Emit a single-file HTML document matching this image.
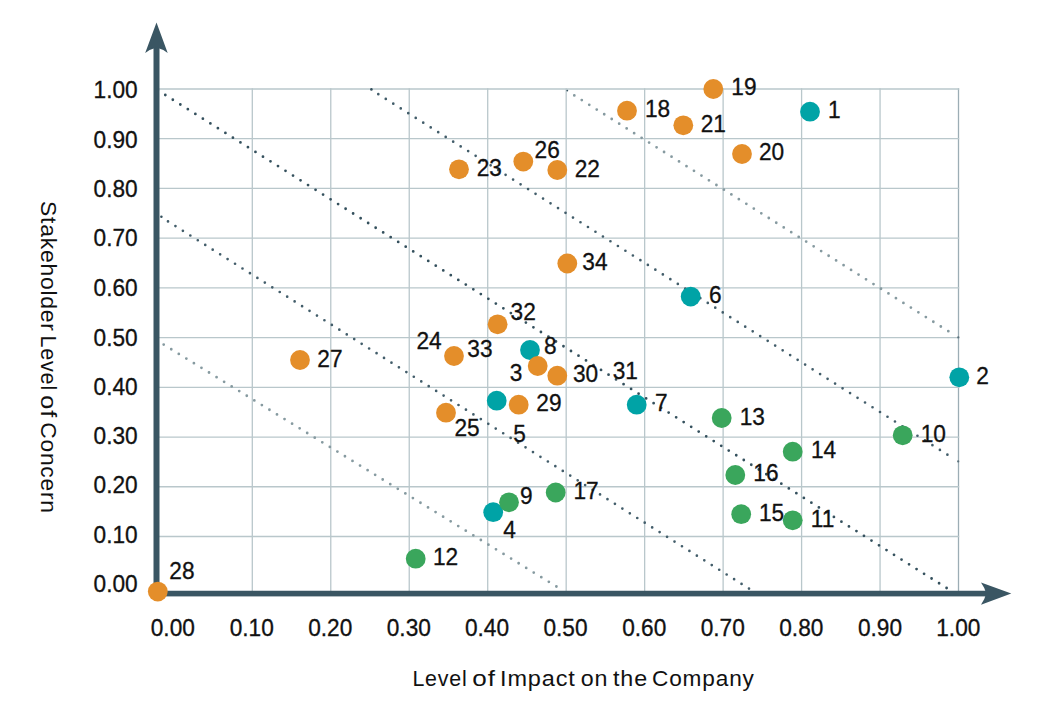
<!DOCTYPE html>
<html lang="en"><head><meta charset="utf-8"><title>Materiality matrix</title>
<style>html,body{margin:0;padding:0;background:#fff}body{width:1050px;height:706px;overflow:hidden}svg{display:block}text{font-family:"Liberation Sans",sans-serif;fill:#111111;stroke:#111111;stroke-width:0.3px}</style></head><body>
<svg width="1050" height="706" viewBox="0 0 1050 706">
<rect width="1050" height="706" fill="#fff"/>
<g stroke="#b9c7cb" stroke-width="1.3" fill="none">
<line x1="252.30" y1="88.3" x2="252.30" y2="592"/>
<line x1="330.77" y1="88.3" x2="330.77" y2="592"/>
<line x1="409.24" y1="88.3" x2="409.24" y2="592"/>
<line x1="487.71" y1="88.3" x2="487.71" y2="592"/>
<line x1="566.18" y1="88.3" x2="566.18" y2="592"/>
<line x1="644.65" y1="88.3" x2="644.65" y2="592"/>
<line x1="723.12" y1="88.3" x2="723.12" y2="592"/>
<line x1="801.59" y1="88.3" x2="801.59" y2="592"/>
<line x1="880.06" y1="88.3" x2="880.06" y2="592"/>
<line x1="958.5" y1="88.3" x2="958.5" y2="592" stroke="#9cadb5" stroke-width="1.3"/>
<line x1="158" y1="89.00" x2="959.2" y2="89.00"/>
<line x1="158" y1="138.72" x2="959.2" y2="138.72"/>
<line x1="158" y1="188.44" x2="959.2" y2="188.44"/>
<line x1="158" y1="238.16" x2="959.2" y2="238.16"/>
<line x1="158" y1="287.88" x2="959.2" y2="287.88"/>
<line x1="158" y1="337.60" x2="959.2" y2="337.60"/>
<line x1="158" y1="387.32" x2="959.2" y2="387.32"/>
<line x1="158" y1="437.04" x2="959.2" y2="437.04"/>
<line x1="158" y1="486.76" x2="959.2" y2="486.76"/>
<line x1="158" y1="536.48" x2="959.2" y2="536.48"/>
</g>
<g fill="none" stroke-linecap="round">
<line x1="157.80" y1="90.26" x2="946.61" y2="588.01" stroke="#34505d" stroke-width="2.8" stroke-dasharray="0 8.8830"/>
<line x1="168.00" y1="221.40" x2="749.01" y2="588.61" stroke="#425d6a" stroke-width="2.7" stroke-dasharray="0 8.8117"/>
<line x1="378.30" y1="94.20" x2="947.41" y2="454.71" stroke="#425d6a" stroke-width="2.7" stroke-dasharray="0 8.8641"/>
<line x1="163.70" y1="344.60" x2="556.41" y2="586.51" stroke="#869aa0" stroke-width="2.8" stroke-dasharray="0 8.8697"/>
<line x1="574.30" y1="95.40" x2="948.31" y2="331.21" stroke="#869aa0" stroke-width="2.8" stroke-dasharray="0 8.8426"/>
<circle cx="161.4" cy="216.8" r="1.25" fill="#34505d" stroke="none"/>
<circle cx="371.4" cy="89.4" r="1.30" fill="#34505d" stroke="none"/>
<circle cx="567.3" cy="90.6" r="0.90" fill="#34505d" stroke="none"/>
<circle cx="958.2" cy="461.4" r="1.15" fill="#5d737d" stroke="none"/>
<circle cx="958.3" cy="337.4" r="1.15" fill="#5d737d" stroke="none"/>
</g>
<g fill="#3a5663">
<rect x="153.5" y="42" width="6.0" height="554.4"/>
<rect x="153.3" y="590.75" width="838" height="5.65"/>
<path d="M156.5 22.4 L167.7 53 Q162.6 49.2 156.5 47.6 Q150.4 49.2 145.2 53 Z"/>
<path d="M1011.3 593.45 L981.0 604.7 Q984.8 599.4 986.2 593.45 Q984.8 587.6 981.0 582.4 Z"/>
</g>
<g>
<circle cx="810.0" cy="111.7" r="9.9" fill="#00a3a6"/>
<circle cx="959.3" cy="377.3" r="9.9" fill="#00a3a6"/>
<circle cx="530.0" cy="350.0" r="9.9" fill="#00a3a6"/>
<circle cx="496.7" cy="400.7" r="9.9" fill="#00a3a6"/>
<circle cx="690.7" cy="296.6" r="9.9" fill="#00a3a6"/>
<circle cx="636.7" cy="404.7" r="9.9" fill="#00a3a6"/>
<circle cx="493.2" cy="512.2" r="9.9" fill="#00a3a6"/>
<circle cx="713.3" cy="89.0" r="9.9" fill="#e48e2a"/>
<circle cx="627.0" cy="110.7" r="9.9" fill="#e48e2a"/>
<circle cx="683.3" cy="125.3" r="9.9" fill="#e48e2a"/>
<circle cx="742.0" cy="154.0" r="9.9" fill="#e48e2a"/>
<circle cx="459.0" cy="169.3" r="9.9" fill="#e48e2a"/>
<circle cx="523.3" cy="161.6" r="9.9" fill="#e48e2a"/>
<circle cx="557.3" cy="170.0" r="9.9" fill="#e48e2a"/>
<circle cx="567.3" cy="263.5" r="9.9" fill="#e48e2a"/>
<circle cx="497.6" cy="324.3" r="9.9" fill="#e48e2a"/>
<circle cx="454.0" cy="356.0" r="9.9" fill="#e48e2a"/>
<circle cx="537.7" cy="366.0" r="9.9" fill="#e48e2a"/>
<circle cx="557.3" cy="375.7" r="9.9" fill="#e48e2a"/>
<circle cx="518.7" cy="404.7" r="9.9" fill="#e48e2a"/>
<circle cx="446.0" cy="412.7" r="9.9" fill="#e48e2a"/>
<circle cx="300.0" cy="360.0" r="9.9" fill="#e48e2a"/>
<circle cx="157.8" cy="591.6" r="9.9" fill="#e48e2a"/>
<circle cx="721.7" cy="418.0" r="9.9" fill="#3aa65c"/>
<circle cx="902.7" cy="435.3" r="9.9" fill="#3aa65c"/>
<circle cx="792.7" cy="451.7" r="9.9" fill="#3aa65c"/>
<circle cx="735.3" cy="475.0" r="9.9" fill="#3aa65c"/>
<circle cx="741.2" cy="514.2" r="9.9" fill="#3aa65c"/>
<circle cx="792.7" cy="520.3" r="9.9" fill="#3aa65c"/>
<circle cx="555.7" cy="492.5" r="9.9" fill="#3aa65c"/>
<circle cx="509.0" cy="502.3" r="9.9" fill="#3aa65c"/>
<circle cx="415.7" cy="558.7" r="9.9" fill="#3aa65c"/>
</g>
<g font-size="22.8">
<text transform="translate(828.0,118.3) scale(0.995,1.058)">1</text>
<text transform="translate(976.3,384.0) scale(0.995,1.058)">2</text>
<text transform="translate(509.7,381.0) scale(0.995,1.058)">3</text>
<text transform="translate(503.3,538.1) scale(0.995,1.058)">4</text>
<text transform="translate(513.3,442.1) scale(0.995,1.058)">5</text>
<text transform="translate(709.0,303.2) scale(0.995,1.058)">6</text>
<text transform="translate(655.0,411.2) scale(0.995,1.058)">7</text>
<text transform="translate(544.0,354.0) scale(0.995,1.058)">8</text>
<text transform="translate(520.0,503.6) scale(0.995,1.058)">9</text>
<text transform="translate(920.7,441.7) scale(0.995,1.058)">10</text>
<text transform="translate(810.7,527.0) scale(0.995,1.058)">11</text>
<text transform="translate(432.9,565.2) scale(0.995,1.058)">12</text>
<text transform="translate(739.7,425.2) scale(0.995,1.058)">13</text>
<text transform="translate(811.0,458.1) scale(0.995,1.058)">14</text>
<text transform="translate(759.0,521.2) scale(0.995,1.058)">15</text>
<text transform="translate(753.3,480.7) scale(0.995,1.058)">16</text>
<text transform="translate(573.5,498.7) scale(0.995,1.058)">17</text>
<text transform="translate(645.0,117.3) scale(0.995,1.058)">18</text>
<text transform="translate(731.3,94.7) scale(0.995,1.058)">19</text>
<text transform="translate(759.0,160.0) scale(0.995,1.058)">20</text>
<text transform="translate(700.7,132.3) scale(0.995,1.058)">21</text>
<text transform="translate(574.7,176.7) scale(0.995,1.058)">22</text>
<text transform="translate(476.7,175.5) scale(0.995,1.058)">23</text>
<text transform="translate(416.4,348.7) scale(0.995,1.058)">24</text>
<text transform="translate(454.5,435.7) scale(0.995,1.058)">25</text>
<text transform="translate(534.6,157.7) scale(0.995,1.058)">26</text>
<text transform="translate(317.3,367.1) scale(0.995,1.058)">27</text>
<text transform="translate(169.3,578.6) scale(0.995,1.058)">28</text>
<text transform="translate(536.3,410.7) scale(0.995,1.058)">29</text>
<text transform="translate(573.0,382.1) scale(0.995,1.058)">30</text>
<text transform="translate(612.7,378.7) scale(0.995,1.058)">31</text>
<text transform="translate(510.6,320.2) scale(0.995,1.058)">32</text>
<text transform="translate(467.3,357.3) scale(0.995,1.058)">33</text>
<text transform="translate(582.3,269.9) scale(0.995,1.058)">34</text>
</g>
<g font-size="22.8" text-anchor="middle">
<text transform="translate(172.8,635.5) scale(0.995,1.058)">0.00</text>
<text transform="translate(251.7,635.5) scale(0.995,1.058)">0.10</text>
<text transform="translate(330.2,635.5) scale(0.995,1.058)">0.20</text>
<text transform="translate(408.8,635.5) scale(0.995,1.058)">0.30</text>
<text transform="translate(487.0,635.5) scale(0.995,1.058)">0.40</text>
<text transform="translate(565.5,635.5) scale(0.995,1.058)">0.50</text>
<text transform="translate(644.2,635.5) scale(0.995,1.058)">0.60</text>
<text transform="translate(722.7,635.5) scale(0.995,1.058)">0.70</text>
<text transform="translate(801.3,635.5) scale(0.995,1.058)">0.80</text>
<text transform="translate(880.0,635.5) scale(0.995,1.058)">0.90</text>
<text transform="translate(958.3,635.5) scale(0.995,1.058)">1.00</text>
</g>
<g font-size="22.8" text-anchor="end">
<text transform="translate(137.7,592.2) scale(0.995,1.058)">0.00</text>
<text transform="translate(137.7,543.2) scale(0.995,1.058)">0.10</text>
<text transform="translate(137.7,493.2) scale(0.995,1.058)">0.20</text>
<text transform="translate(137.7,443.8) scale(0.995,1.058)">0.30</text>
<text transform="translate(137.7,394.5) scale(0.995,1.058)">0.40</text>
<text transform="translate(137.7,345.5) scale(0.995,1.058)">0.50</text>
<text transform="translate(137.7,295.5) scale(0.995,1.058)">0.60</text>
<text transform="translate(137.7,246.4) scale(0.995,1.058)">0.70</text>
<text transform="translate(137.7,197.0) scale(0.995,1.058)">0.80</text>
<text transform="translate(137.7,147.6) scale(0.995,1.058)">0.90</text>
<text transform="translate(137.7,97.8) scale(0.995,1.058)">1.00</text>
</g>
<g font-size="22.1" letter-spacing="0.83" style="stroke:none">
<text transform="translate(412.40,686.2) scale(0.9680,1)" style="stroke:none">Level</text>
<text transform="translate(472.30,686.2) scale(1.1800,1)" style="stroke:none">of</text>
<text transform="translate(500.00,686.2) scale(1.0630,1)" style="stroke:none">Impact</text>
<text transform="translate(580.80,686.2) scale(1.0520,1)" style="stroke:none">on</text>
<text transform="translate(613.00,686.2) scale(1.0550,1)" style="stroke:none">the</text>
<text transform="translate(652.00,686.2) scale(1.0240,1)" style="stroke:none">Company</text>
</g>
<g font-size="22.1" letter-spacing="0.72">
<text transform="translate(40.7,201.00) rotate(90) scale(1.0386,1.04)" style="stroke:none">Stakeholder</text>
<text transform="translate(40.7,335.45) rotate(90) scale(0.9830,1.04)" style="stroke:none">Level</text>
<text transform="translate(40.7,395.35) rotate(90) scale(1.1400,1.04)" style="stroke:none">of</text>
<text transform="translate(40.7,422.30) rotate(90) scale(1.0320,1.04)" style="stroke:none">Concern</text>
</g>
</svg></body></html>
